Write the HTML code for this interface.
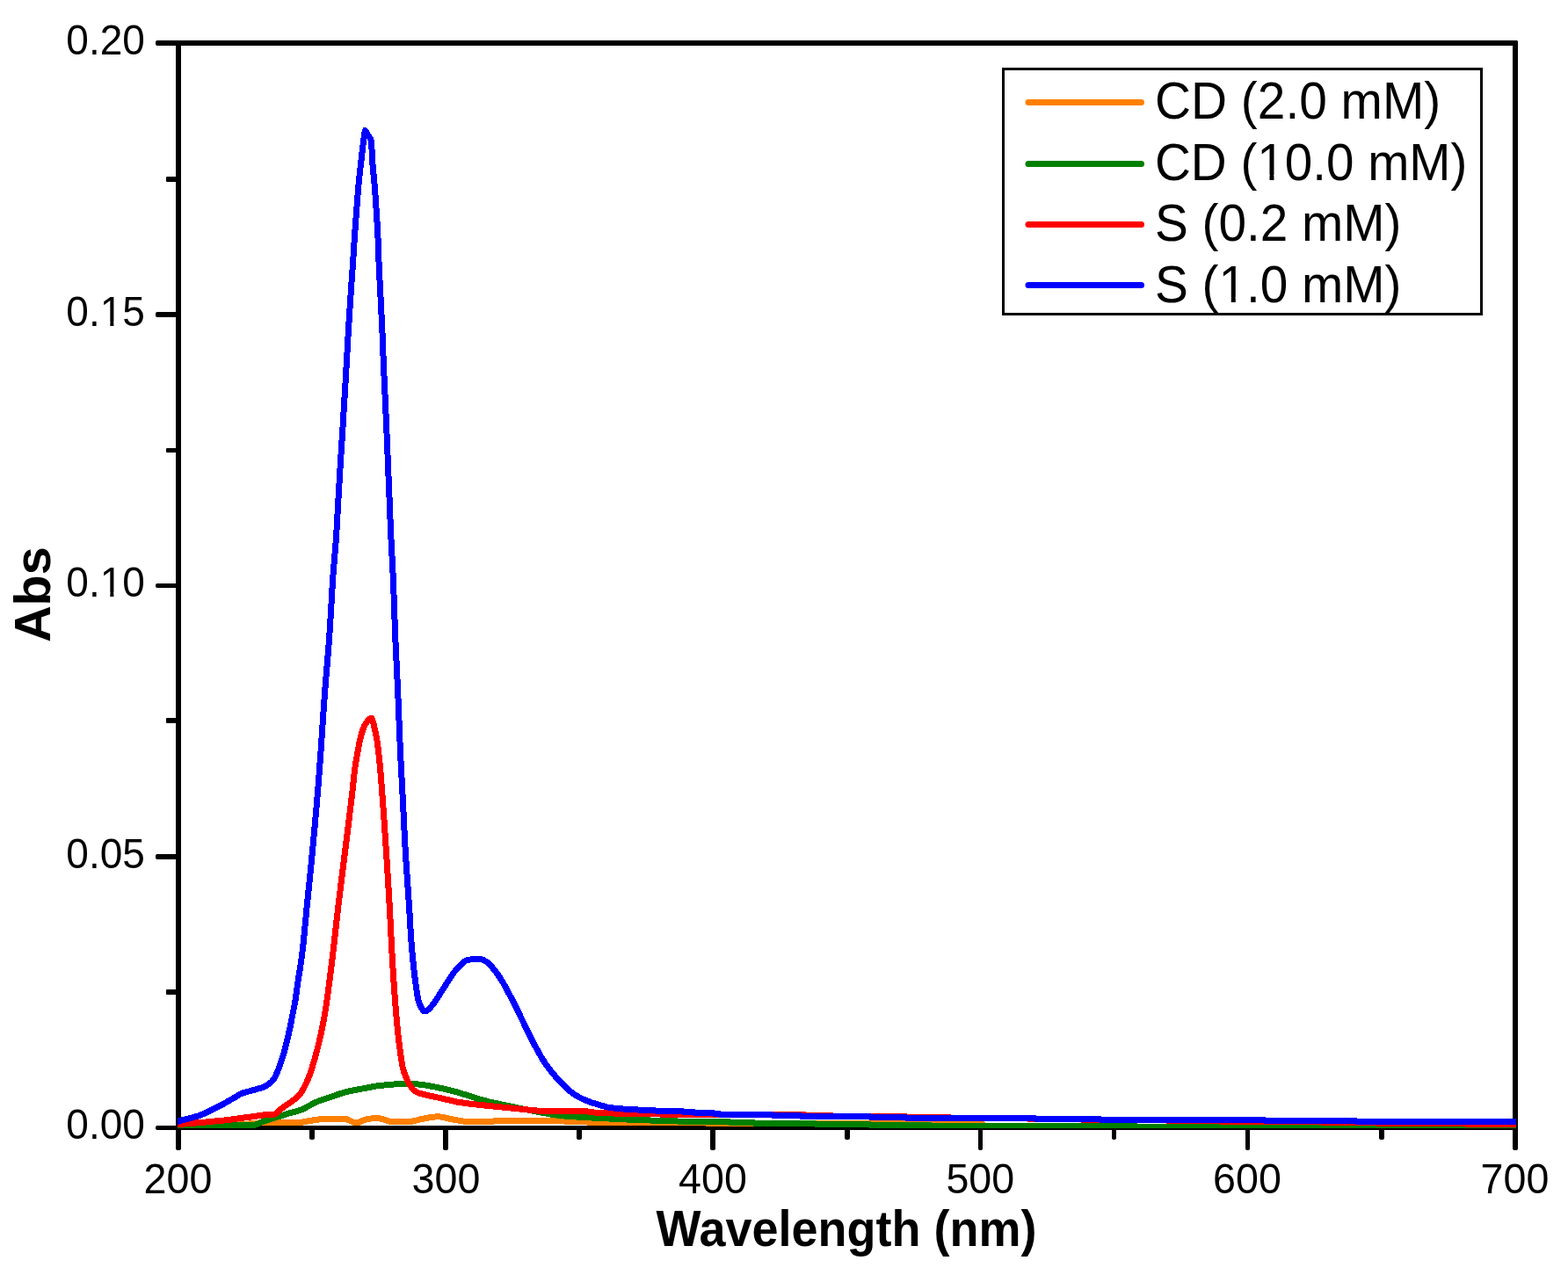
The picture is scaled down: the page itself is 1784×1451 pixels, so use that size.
<!DOCTYPE html>
<html lang="en">
<head>
<meta charset="utf-8">
<title>UV-Vis absorbance spectra</title>
<style>
html,body{margin:0;padding:0;background:#fff;}
body{width:1784px;height:1451px;overflow:hidden;}
svg{display:block;}
text{font-family:"Liberation Sans",sans-serif;fill:#000;}
.tick{font-size:47.6px;}
.leg{font-size:59.5px;}
.title{font-size:57px;font-weight:bold;}
.curve{fill:none;stroke-width:7;stroke-linejoin:round;stroke-linecap:butt;}
</style>
</head>
<body>
<svg width="1784" height="1451" viewBox="0 0 1784 1451">
<rect x="0" y="0" width="1784" height="1451" fill="#fff"/>
<defs><clipPath id="plotclip"><rect x="202" y="49" width="1523" height="1235"/></clipPath></defs>

<!-- AXES -->
<g id="axes" fill="#000">
<rect x="200" y="46" width="6" height="1263" rx="2"/>
<rect x="1721" y="46" width="6" height="1263" rx="2"/>
<rect x="177" y="46" width="1550" height="6" rx="2"/>
<rect x="177" y="1281" width="1550" height="5" rx="2"/>
<!-- y major ticks -->
<rect x="177" y="355" width="26" height="6" rx="2"/>
<rect x="177" y="664" width="26" height="5" rx="2"/>
<rect x="177" y="972" width="26" height="6" rx="2"/>
<!-- y minor ticks -->
<rect x="189" y="201" width="14" height="6" rx="1"/>
<rect x="189" y="510" width="14" height="5" rx="1"/>
<rect x="189" y="817" width="14" height="6" rx="1"/>
<rect x="189" y="1126" width="14" height="6" rx="1"/>
<!-- x major ticks -->
<rect x="504" y="1283" width="6" height="26" rx="2"/>
<rect x="808" y="1283" width="6" height="26" rx="2"/>
<rect x="1113" y="1283" width="5" height="26" rx="2"/>
<rect x="1417" y="1283" width="5" height="26" rx="2"/>
<!-- x minor ticks -->
<rect x="352" y="1283" width="6" height="14" rx="2"/>
<rect x="656" y="1283" width="6" height="14" rx="2"/>
<rect x="961" y="1283" width="6" height="14" rx="2"/>
<rect x="1265" y="1283" width="5" height="14" rx="2"/>
<rect x="1569" y="1283" width="6" height="14" rx="2"/>
</g>

<!-- CURVES -->
<g clip-path="url(#plotclip)" id="curves" shape-rendering="crispEdges">
<polyline id="c-orange" class="curve" stroke="#ff8000" points="200,1284 212,1283.7 224,1283.2 236,1282.7 246,1282.5 257,1283 259,1282.8 261,1282.4 267,1280.6 269,1280.1 281,1279.2 290,1278.5 298,1277.5 310,1277.4 322,1277.4 334,1277.4 342,1277.4 344,1277.1 351,1275.7 363,1273.9 375,1273.4 387,1273.4 392,1273.4 393,1273.5 394,1273.7 395,1274 397,1274.8 401,1276.8 403,1277.5 404,1277.8 405.4,1277.9 406,1277.9 407,1277.7 408,1277.4 410,1276.5 413,1275.1 414,1274.7 416,1274.1 423,1272.8 427,1272.3 429,1272.3 431,1272.5 433,1273 441,1275.6 443,1276.1 445,1276.4 457,1276.4 467,1276.4 469,1276.1 473,1275.3 479,1273.6 491,1271.4 496,1270.9 499,1270.8 502,1271.1 514,1273.7 526,1275.9 530,1276.4 542,1276.4 554,1276.2 566,1275.9 578,1275.7 590,1275.6 602,1275.4 614,1275.3 626,1275.3 638,1275.8 650,1276.4 662,1276.9 674,1277.1 686,1277.2 698,1277.2 710,1277.3 722,1277.3 734,1277.3 746,1277.3 758,1277.2 770,1277.2 782,1277.2 794,1277.3 800,1277.3 801,1277.4 805,1278.4 806,1278.5 818,1278.5 830,1278.5 842,1278.5 854,1278.5 866,1278.5 878,1278.5 890,1278.5 902,1278.5 914,1278.5 926,1278.5 938,1278.5 950,1278.5 962,1278.5 974,1278.5 986,1278.5 998,1278.5 1010,1278.5 1022,1278.5 1030,1278.5 1032,1279.5 1044,1279.5 1056,1279.5 1068,1279.5 1080,1279.5 1092,1279.5 1104,1279.5 1116,1279.5 1118,1279.5 1120,1282.5 1132,1282.5 1144,1282.5 1156,1282.5 1168,1282.5 1180,1282.5 1192,1282.5 1204,1282.5 1216,1282.5 1228,1282.5 1240,1282.5 1252,1282.5 1264,1282.5 1276,1282.5 1288,1282.5 1292,1282.5 1294,1283.5 1306,1283.5 1318,1283.5 1330,1283.5 1342,1283.5 1354,1283.5 1366,1283.5 1378,1283.5 1390,1283.5 1402,1283.5 1414,1283.5 1426,1283.5 1438,1283.5 1450,1283.5 1462,1283.5 1474,1283.5 1486,1283.5 1498,1283.5 1510,1283.5 1522,1283.5 1534,1283.5 1546,1283.5 1558,1283.5 1570,1283.5 1582,1283.5 1594,1283.5 1606,1283.5 1618,1283.5 1630,1283.5 1642,1283.5 1654,1283.5 1666,1283.5 1678,1283.5 1690,1283.5 1702,1283.5 1714,1283.5 1726,1283.5"/>
<polyline id="c-green" class="curve" stroke="#008000" points="200,1283.5 202,1283.3 214,1283.1 226,1283.1 238,1282.9 250,1281.6 259,1280.8 271,1280.7 283,1280.6 288,1280.5 289,1280.4 290,1280.2 292,1279.6 300,1276 312,1272.2 324,1268.5 333,1265.8 340,1264 342,1263.3 345,1262 357,1255.6 362,1253.3 374,1249.1 386,1245 394,1242.5 406,1240.1 418,1237.9 429,1235.8 441,1234.6 453,1233.6 465,1233.5 473,1233.6 485,1235.1 497,1237.4 509,1240.1 521,1243.2 533,1246.9 545,1250.8 557,1254 569,1256.6 581,1259.1 593,1261.6 605,1263.9 617,1266.3 629,1268.5 641,1269.9 653,1270.8 665,1271.6 677,1272.2 689,1272.8 701,1273.4 713,1274 725,1274.5 737,1274.9 749,1275.3 761,1275.6 773,1276.1 785,1276.5 797,1276.5 809,1276.5 821,1276.5 829,1276.5 831,1277.5 843,1277.5 855,1277.5 857,1277.5 859,1278.5 871,1278.5 883,1278.5 895,1278.5 907,1278.5 919,1278.5 927,1278.5 929,1279.5 941,1279.5 953,1279.5 965,1279.5 977,1279.5 989,1279.5 991,1280.5 1003,1280.5 1015,1280.5 1027,1280.5 1039,1280.5 1051,1280.5 1058,1280.5 1060,1281.5 1072,1281.5 1084,1281.5 1096,1281.5 1108,1281.5 1120,1281.5 1132,1281.5 1144,1281.5 1156,1281.5 1168,1281.5 1180,1281.5 1192,1281.5 1204,1281.5 1216,1281.5 1228,1281.5 1240,1281.5 1252,1281.5 1264,1281.5 1276,1281.5 1288,1281.5 1292,1281.5 1294,1282.5 1306,1282.5 1318,1282.5 1330,1282.5 1342,1282.5 1354,1282.5 1366,1282.5 1378,1282.5 1390,1282.5 1402,1282.5 1414,1282.5 1426,1282.5 1438,1282.5 1450,1282.5 1462,1282.5 1474,1282.5 1486,1282.5 1498,1282.5 1510,1282.5 1522,1282.5 1534,1282.5 1546,1282.5 1558,1282.5 1570,1282.5 1582,1282.5 1594,1282.5 1606,1282.5 1618,1282.5 1630,1282.5 1642,1282.5 1654,1282.5 1666,1282.5 1678,1282.5 1690,1282.5 1702,1282.5 1714,1282.5 1726,1282.5"/>
<polyline id="c-red" class="curve" stroke="#ff0000" points="200,1279.8 212,1278.8 224,1277.9 236,1276.8 248,1275.6 260,1274.6 272,1272.7 284,1271.2 296,1269.5 301,1268.8 311,1268.4 312,1268.2 313,1267.8 314,1267.2 315,1266.4 320,1261.8 322,1260.3 329,1255.6 335,1251.1 337,1249.4 339,1247.5 340,1246.5 341.3,1245 342,1244.1 343,1242.7 344,1241 345,1239.3 347,1235.6 348,1233.5 349,1231.3 350,1229 351.3,1225.8 352,1224 353,1221.2 354,1218.2 355,1215.1 357,1208.6 358,1205.2 359,1201.6 360,1197.9 361.4,1192.5 363,1186 364,1181.8 365,1177.4 366,1172.7 367,1167.8 368,1162.6 369,1157 370,1151.1 371,1144.9 371.3,1143 372,1138.3 373,1130.9 375,1115.5 376,1107.7 377,1099.8 378,1091.6 379,1083.3 380,1074.6 381,1065.7 383,1047.6 384,1038.8 385,1030.3 386,1022 387,1013.8 392,973.8 397,933.4 398,925.2 399,917 400,908.6 401,900 402,890.7 403,881.2 403.8,874.6 404,873.2 405,866.8 406,861.1 408,849.9 409,844.7 409.8,841 410,840.2 411,836.3 412,833 412.7,830.9 414,827.5 415,825.2 416,823.5 418,820.7 419,819.5 420,818.5 421,817.7 422,817.3 422.4,817.3 423,817.7 424,820.1 425,823.8 427,832.6 428,837.2 428.7,841 429,842.9 430,850.2 431,858.7 432,868.2 432.6,874.6 433,879.2 434,892 435,905.4 436,919.1 437,933.2 438,947.8 439,962.7 440,978.1 441,993.9 442,1010.3 443,1027.4 443.4,1034.5 444,1045.8 445,1066.1 446,1085 447,1101.7 448,1117.4 449,1131.9 449.6,1140 450,1145.1 451,1156.9 451.3,1160.2 452,1167.7 453,1177.7 453.3,1180.4 454,1186.3 455,1194.1 456,1201.2 457,1208 458,1213.9 458.4,1215.7 459,1217.9 460,1221 461,1223.6 462,1226 463,1228.3 464,1230.5 465,1232.5 466,1234.3 467,1235.9 468,1237.4 469,1238.8 470,1240 471,1240.9 472,1241.6 474,1242.8 476,1243.7 479,1244.7 491,1247.5 503,1250.1 515,1252.9 519,1253.9 531,1255.7 543,1257.1 555,1258.4 567,1259.6 579,1260.8 591,1262 603,1263.2 615,1264.4 621,1264.8 633,1264.8 645,1264.8 657,1264.8 667,1264.8 671,1265.2 678,1266.3 690,1266.8 702,1267.1 714,1267.2 726,1267.4 738,1267.7 750,1268 762,1268.3 774,1268.5 786,1268.5 798,1268.5 810,1268.5 822,1268.5 834,1268.5 846,1268.5 858,1268.5 870,1268.5 882,1268.5 894,1268.5 906,1268.5 915,1268.5 917,1269.5 929,1269.5 941,1269.5 946,1269.5 948,1270.5 960,1270.5 972,1270.5 984,1270.5 996,1270.5 1008,1270.5 1020,1270.5 1030,1270.5 1032,1271.5 1044,1271.5 1056,1271.5 1068,1271.5 1080,1271.5 1082,1272.5 1094,1272.5 1106,1272.5 1118,1272.5 1130,1272.5 1142,1272.5 1154,1272.5 1166,1272.5 1169,1272.5 1171,1273.5 1183,1273.5 1195,1273.5 1207,1273.5 1219,1273.5 1230,1273.5 1232,1274.5 1244,1274.5 1256,1274.5 1268,1274.5 1280,1274.5 1292,1274.5 1304,1274.5 1316,1274.5 1327,1274.5 1329,1275.5 1341,1275.5 1353,1275.5 1365,1275.5 1377,1275.5 1388,1275.5 1390,1276.5 1402,1276.5 1414,1276.5 1426,1276.5 1438,1276.5 1450,1276.5 1462,1276.5 1474,1276.5 1486,1276.5 1498,1276.5 1503,1276.5 1505,1277.5 1517,1277.5 1529,1277.5 1541,1277.5 1553,1277.5 1565,1277.5 1566,1277.5 1568,1278.5 1580,1278.5 1592,1278.5 1604,1278.5 1616,1278.5 1628,1278.5 1640,1278.5 1652,1278.5 1664,1278.5 1667,1278.5 1669,1279.5 1681,1279.5 1693,1279.5 1705,1279.5 1717,1279.5 1726,1279.5"/>
<polyline id="c-blue" class="curve" stroke="#0000ff" points="200,1277 204,1275.7 216,1272.7 226,1269.8 231,1267.9 243,1262.1 255,1255.9 267,1249 272,1245.8 273,1245.2 274.3,1244.6 277,1243.6 289,1240.4 297,1238.1 300,1237 302,1236.1 304,1234.9 306,1233.6 308,1231.9 309,1231 310,1229.9 311,1228.8 312,1227.4 313,1225.5 314,1223.4 316,1218.7 317,1216.3 318,1213.7 319,1210.9 320,1208 321.1,1204.6 322,1201.7 323,1198.2 324,1194.6 325,1190.7 326.1,1186.4 327,1182.7 328,1178.4 329,1173.9 330.2,1168.3 331,1164.4 333.2,1153.1 334,1149.2 335,1144.2 335.4,1142 336,1138.3 337,1131.5 338,1124.2 338.8,1118.6 339,1117.3 340,1110.8 341,1104.5 342,1098 343,1091.1 343.8,1085 344,1083.4 345,1074.5 346,1064.6 347,1054.2 348,1043.7 349,1033.5 352,1003.9 353,994 354,983.9 355,973.6 356,963.1 357,952.4 358,941.5 359,930.4 360,919 361,907.3 361.6,900 362,895 363,882.2 364,868.8 365,855 366,840.5 368,810.4 369,796 369.4,790.5 370,782.7 371,770.4 372,758.6 373,746.7 374,734.2 374.8,723.3 375,720.4 376,704.3 377,686.9 378,669.8 378.9,656 379,654.6 380,642 381,630.4 382,618 382.3,613.8 383,603 384,585.7 385,567.6 386,549.9 386.2,546.5 387,533.4 388,517.5 389,501.8 390,485.8 390.4,479.3 391,469.4 392,452.8 393,435.9 394.4,412 395,401.4 396,383.5 396.8,369.8 397,366.6 398,351.1 399,336.2 400,321.5 401,307 401.3,302.5 402,291.8 403,276.3 403.5,268.9 404,261.8 405,248.3 406,235.3 407,222.5 408,210.4 408.5,205 409,200.1 410.6,186.1 412.7,167.5 413,164.8 413.6,159.6 414,156.8 414.7,152.6 415,150.6 415.5,148.4 416,149.1 416.4,150 419,154.6 421,157.2 422,159.5 422.3,160.5 422.6,163.6 423,169.9 423.9,186.1 424,187.4 425,198.4 426,208.6 426.2,211 427,221.8 428,236.8 429,252.4 429.9,268.9 430,271.1 431,297.7 431.2,302.5 432,319 432.9,336.2 433,338.2 434,357.4 434.6,369.8 435,379.2 436,404.7 436.3,412 437,427.7 438,449 439,470.4 439.4,479.3 440,493.3 441,517.3 442,541.7 442.2,546.5 443,566.2 444,590.9 445,613.8 446,632.8 447,651.7 447.2,656 448,676.3 449,704.8 449.7,723.3 450,730.4 451,752.2 452,773 452.8,790.5 453,795.1 455,844.3 455.6,857.8 456,866 457,884.9 457.8,900 458,903.9 459,924.3 460,944.8 461,963.8 461.2,967.3 462,980.3 463,995.2 464,1009.4 465,1023.8 465.7,1034.5 466,1039.4 467,1056.8 467.8,1069.3 468,1072 469,1083.9 470,1094.3 470.8,1101.9 471,1103.7 472,1112.3 473,1120.1 473.7,1124.9 475,1133.3 476,1138.5 476.6,1140.6 477,1141.6 478,1144 479,1146.1 480,1147.9 481,1149.4 482,1150.4 483,1150.9 483.5,1151 484,1151 485,1150.6 486,1150 487,1149.2 488,1148.3 492,1143.9 493,1142.7 494,1141.3 496,1138.3 508,1119.5 512,1113.1 514,1110.1 517,1106 519,1103.5 521,1101.2 526,1096.3 527,1095.3 528,1094.5 529,1093.8 530,1093.3 533,1092.4 536,1091.8 539,1091.6 547,1091.6 548,1091.8 549,1092.1 550,1092.6 552,1093.7 554.2,1095 555,1095.6 556,1096.4 557,1097.4 559,1099.7 564,1105.9 566,1108.6 568,1111.4 570,1114.5 571,1116.1 573,1119.5 583,1138 586,1143.8 595,1162.5 600,1173 604,1181.2 606,1185.1 612,1196.2 615,1201.5 618,1206.5 620,1209.7 622,1212.6 625,1216.7 628,1220.4 632,1225.1 642,1235.7 646,1239.6 649,1242.2 652,1244.5 656,1247 661,1249.8 666,1252.1 674,1255.1 686,1258.7 691,1260 695,1260.7 707,1261.9 719,1262.6 731,1263.3 743,1263.9 755,1264.4 767,1264.5 776,1264.5 778,1265.5 789,1265.5 791,1266.5 803,1266.5 811,1266.5 813,1267.5 818,1267.5 820,1268.5 832,1268.5 844,1268.5 856,1268.5 868,1268.5 878,1268.5 880,1269.5 892,1269.5 904,1269.5 910,1269.5 912,1270.5 924,1270.5 936,1270.5 948,1270.5 960,1270.5 972,1270.5 984,1270.5 989,1270.5 991,1271.5 1003,1271.5 1015,1271.5 1027,1271.5 1030,1271.5 1032,1272.5 1044,1272.5 1056,1272.5 1068,1272.5 1080,1272.5 1092,1272.5 1104,1272.5 1116,1272.5 1128,1272.5 1140,1272.5 1152,1272.5 1164,1272.5 1176,1272.5 1177,1272.5 1179,1273.5 1191,1273.5 1203,1273.5 1215,1273.5 1227,1273.5 1239,1273.5 1251,1273.5 1253,1274.5 1265,1274.5 1277,1274.5 1289,1274.5 1301,1274.5 1313,1274.5 1325,1274.5 1337,1274.5 1349,1274.5 1361,1274.5 1373,1274.5 1385,1274.5 1397,1274.5 1409,1274.5 1421,1274.5 1433,1274.5 1438,1274.5 1440,1275.5 1452,1275.5 1464,1275.5 1476,1275.5 1488,1275.5 1500,1275.5 1512,1275.5 1524,1275.5 1536,1275.5 1542,1275.5 1544,1276.5 1556,1276.5 1568,1276.5 1580,1276.5 1592,1276.5 1604,1276.5 1616,1276.5 1628,1276.5 1640,1276.5 1652,1276.5 1664,1276.5 1676,1276.5 1688,1276.5 1700,1276.5 1712,1276.5 1724,1276.5 1726,1276.5"/>
</g>

<!-- TICK LABELS -->
<g class="tick" id="ylabels" text-anchor="end">
<text x="164.9" y="61.8" textLength="89.6" lengthAdjust="spacingAndGlyphs">0.20</text>
<text x="164.9" y="370.8" textLength="89.6" lengthAdjust="spacingAndGlyphs">0.15</text>
<text x="164.9" y="679.3" textLength="89.6" lengthAdjust="spacingAndGlyphs">0.10</text>
<text x="164.9" y="987.8" textLength="89.6" lengthAdjust="spacingAndGlyphs">0.05</text>
<text x="164.9" y="1296.3" textLength="89.6" lengthAdjust="spacingAndGlyphs">0.00</text>
</g>
<g class="tick" id="xlabels" text-anchor="middle">
<text x="202.5" y="1357.6" textLength="77.8" lengthAdjust="spacingAndGlyphs">200</text>
<text x="507.5" y="1357.6" textLength="77.8" lengthAdjust="spacingAndGlyphs">300</text>
<text x="811" y="1357.6" textLength="77.8" lengthAdjust="spacingAndGlyphs">400</text>
<text x="1115.3" y="1357.6" textLength="77.8" lengthAdjust="spacingAndGlyphs">500</text>
<text x="1419" y="1357.6" textLength="77.8" lengthAdjust="spacingAndGlyphs">600</text>
<text x="1723.5" y="1357.6" textLength="77.8" lengthAdjust="spacingAndGlyphs">700</text>
</g>

<!-- TITLES -->
<text class="title" id="xtitle" x="746.5" y="1418" textLength="433" lengthAdjust="spacingAndGlyphs">Wavelength (nm)</text>
<text class="title" id="ytitle" transform="translate(56.5,676.6) rotate(-90)" text-anchor="middle" style="font-size:57.7px">Abs</text>

<!-- LEGEND -->
<g id="legend">
<rect x="1141.5" y="78.5" width="544" height="279" fill="#fff" stroke="#000" stroke-width="3"/>
<g stroke-width="7" stroke-linecap="round">
<line x1="1170" y1="116.5" x2="1298.5" y2="116.5" stroke="#ff8000"/>
<line x1="1170" y1="186.5" x2="1298.5" y2="186.5" stroke="#008000"/>
<line x1="1170" y1="255.5" x2="1298.5" y2="255.5" stroke="#ff0000"/>
<line x1="1170" y1="324.5" x2="1298.5" y2="324.5" stroke="#0000ff"/>
</g>
<g class="leg">
<text x="1314" y="135.2" textLength="325.2" lengthAdjust="spacingAndGlyphs">CD (2.0 mM)</text>
<text x="1314" y="204.7" textLength="355.3" lengthAdjust="spacingAndGlyphs">CD (10.0 mM)</text>
<text x="1314" y="274.2" textLength="280.5" lengthAdjust="spacingAndGlyphs">S (0.2 mM)</text>
<text x="1314" y="343.7" textLength="280.5" lengthAdjust="spacingAndGlyphs">S (1.0 mM)</text>
</g>
</g>
<!-- FOOT MASK -->
<g id="mask1" fill="#fff">
<rect x="116" y="366" width="9.34" height="6"/>
<rect x="129.38" y="366" width="8.62" height="6"/>
<rect x="116" y="674" width="9.34" height="6"/>
<rect x="129.38" y="674" width="8.62" height="6"/>
<rect x="1433" y="199" width="11.49" height="7"/>
<rect x="1449.47" y="199" width="10.53" height="7"/>
<rect x="1390" y="338" width="10.76" height="7"/>
<rect x="1405.75" y="338" width="11.25" height="7"/>
</g>
<!-- /FOOT MASK -->
</svg>
</body>
</html>
